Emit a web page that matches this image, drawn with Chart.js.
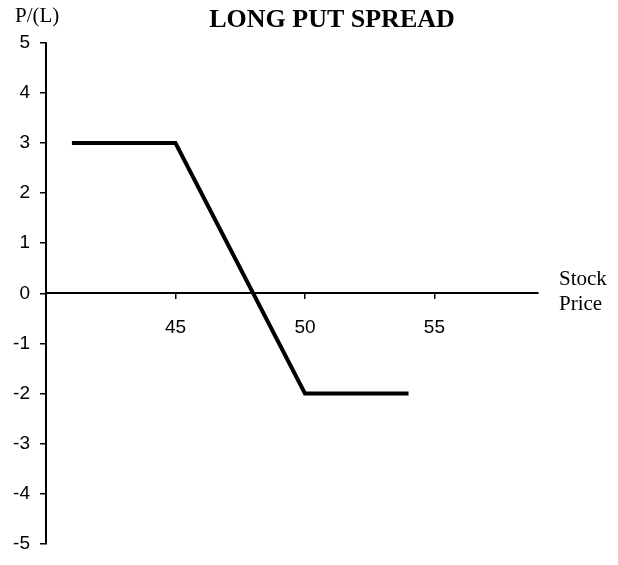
<!DOCTYPE html>
<html>
<head>
<meta charset="utf-8">
<script src="https://cdn.jsdelivr.net/npm/chart.js@4/dist/chart.umd.min.js"></script>
<style>
  html, body { margin: 0; padding: 0; background: #fff; }
  #wrap { width: 618px; height: 565px; }
</style>
</head>
<body>
<div id="wrap"><canvas id="chart" width="618" height="565"></canvas></div>
<script>
// payoff of the spread
var stockPrices = [41, 45, 50, 54];
var profitLoss = [3, 3, -2, -2];
var xTicks = [40, 45, 50, 55];
var xTickLabels = ['', '45', '50', '55'];

var titleText = 'LONG PUT SPREAD';
var yTitle = 'P/(L)';
var xTitleLines = ['Stock', 'Price'];

var points = stockPrices.map(function (p, i) { return { x: p, y: profitLoss[i] }; });

// extra texts: title and axis captions
var labelsPlugin = {
  id: 'labels',
  afterDraw: function (chart) {
    var ctx = chart.ctx;
    ctx.save();
    ctx.fillStyle = '#000';
    ctx.textBaseline = 'alphabetic';

    ctx.font = 'bold 26px "Liberation Serif", "Times New Roman", serif';
    ctx.textAlign = 'center';
    ctx.fillText(titleText, 332, 27);

    ctx.font = '21px "Liberation Serif", "Times New Roman", serif';
    ctx.textAlign = 'left';
    ctx.fillText(yTitle, 15, 22);
    ctx.fillText(xTitleLines[0], 559, 285);
    ctx.fillText(xTitleLines[1], 559, 310);
    ctx.restore();
  }
};

new Chart(document.getElementById('chart'), {
  type: 'line',
  data: {
    datasets: [{
      data: points,
      borderColor: '#000',
      borderWidth: 4,
      pointRadius: 0,
      fill: false,
      tension: 0
    }]
  },
  options: {
    responsive: false,
    animation: false,
    layout: { padding: { left: 0, right: 80, top: 43, bottom: 12 } },
    plugins: {
      legend: { display: false },
      tooltip: { enabled: false }
    },
    scales: {
      x: {
        type: 'linear',
        position: { y: 0 },
        min: 40,
        max: 59,
        afterBuildTicks: function (scale) {
          scale.ticks = xTicks.map(function (v) { return { value: v }; });
        },
        ticks: {
          padding: 18,
          color: '#000',
          font: { family: 'Arial, "Liberation Sans", sans-serif', size: 19 },
          callback: function (value) {
            var i = xTicks.indexOf(value);
            return i >= 0 ? xTickLabels[i] : '';
          },
          maxRotation: 0
        },
        grid: { drawOnChartArea: false, drawTicks: true, tickLength: 5, color: '#000', lineWidth: 1.5 },
        border: { display: true, color: '#000', width: 2 }
      },
      y: {
        min: -5,
        max: 5,
        afterFit: function (scale) { scale.width = 46; },
        ticks: {
          stepSize: 1,
          padding: 10,
          color: '#000',
          font: { family: 'Arial, "Liberation Sans", sans-serif', size: 19 }
        },
        grid: { drawOnChartArea: false, drawTicks: true, tickLength: 6, color: '#000', lineWidth: 1.5 },
        border: { display: true, color: '#000', width: 2 }
      }
    }
  },
  plugins: [labelsPlugin]
});
</script>
</body>
</html>
